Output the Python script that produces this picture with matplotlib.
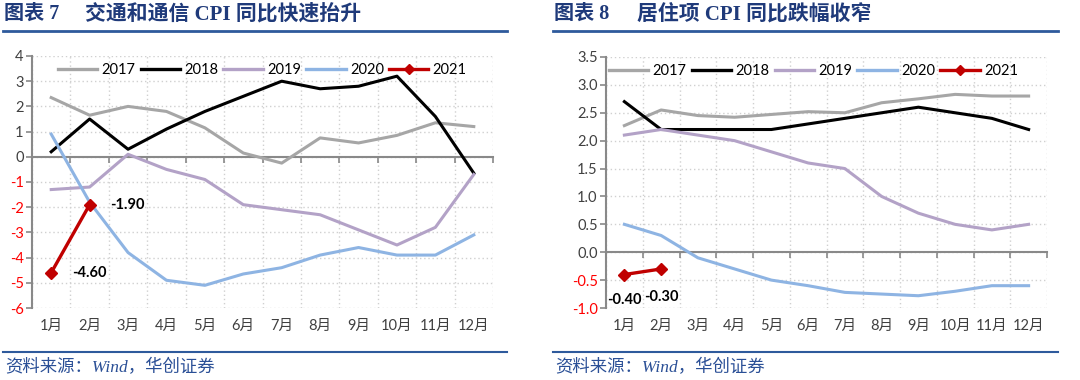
import matplotlib
matplotlib.use("Agg")
import matplotlib.pyplot as plt
from matplotlib.lines import Line2D

months = ["1月", "2月", "3月", "4月", "5月", "6月", "7月", "8月", "9月", "10月", "11月", "12月"]
years = ["2017", "2018", "2019", "2020", "2021"]

# 交通和通信 CPI 同比 (%)
traffic = {
    "2017": [2.35, 1.65, 2.0, 1.8, 1.15, 0.15, -0.25, 0.75, 0.55, 0.85, 1.35, 1.2],
    "2018": [0.2, 1.5, 0.3, 1.1, 1.8, 2.4, 3.0, 2.7, 2.8, 3.2, 1.6, -0.65],
    "2019": [-1.3, -1.2, 0.1, -0.5, -0.9, -1.9, -2.1, -2.3, -2.9, -3.5, -2.8, -0.7],
    "2020": [0.9, -1.8, -3.8, -4.9, -5.1, -4.65, -4.4, -3.9, -3.6, -3.9, -3.9, -3.1],
    "2021": [-4.6, -1.9],
}
# 居住项 CPI 同比 (%)
housing = {
    "2017": [2.27, 2.55, 2.45, 2.42, 2.47, 2.52, 2.5, 2.68, 2.75, 2.83, 2.8, 2.8],
    "2018": [2.7, 2.2, 2.2, 2.2, 2.2, 2.3, 2.4, 2.5, 2.6, 2.5, 2.4, 2.2],
    "2019": [2.1, 2.2, 2.1, 2.0, 1.8, 1.6, 1.5, 1.0, 0.7, 0.5, 0.4, 0.5],
    "2020": [0.5, 0.3, -0.1, -0.3, -0.5, -0.6, -0.72, -0.75, -0.78, -0.7, -0.6, -0.6],
    "2021": [-0.4, -0.3],
}

colors = {"2017": "#A6A6A6", "2018": "#000000", "2019": "#B3A2C7",
          "2020": "#8EB4E3", "2021": "#C00000"}
NUM_FONT = ["Lato", "Noto Sans CJK SC"]
TITLE_FONT = ["Liberation Serif", "Noto Sans CJK SC"]
NAVY = "#1F3A7A"
LINE_BLUE = "#2E5A9C"
AX_GRAY = "#898989"

fig = plt.figure(figsize=(10.8, 3.8), dpi=100)
W, H = 1080, 380


def px_axes(x0, y0, x1, y1):
    return fig.add_axes([x0 / W, 1 - y1 / H, (x1 - x0) / W, (y1 - y0) / H])


def draw_panel(ax, data, ylim, yticks, fmt, label_style, legend_x):
    x = list(range(12))
    for yr in years:
        vals = data[yr]
        if yr == "2021":
            ax.plot(x[:len(vals)], vals, color=colors[yr], lw=2.4,
                    marker="D", ms=6, zorder=5)
        else:
            ax.plot(x[:len(vals)], vals, color=colors[yr], lw=2.2, zorder=3)

    ax.set_xlim(-0.5, 11.5)
    ax.set_ylim(*ylim)
    ax.set_yticks(yticks)
    ax.set_yticklabels([fmt.format(v) for v in yticks], family=NUM_FONT, fontsize=10.5)
    for lab, v in zip(ax.get_yticklabels(), yticks):
        lab.set_color("#FF0000" if v < 0 else "#404040")

    ax.set_xticks([i - 0.5 for i in range(13)])
    ax.set_xticklabels([])
    ax.tick_params(axis="x", direction="out", length=4, color=AX_GRAY, width=1.2)
    ax.tick_params(axis="y", direction="out", length=4, color=AX_GRAY, width=1.2, pad=2)
    ax.grid(True, ls=(0, (1, 2)), color="#D0D0D0", lw=1)
    ax.set_axisbelow(True)

    for s in ["top", "right"]:
        ax.spines[s].set_visible(False)
    ax.spines["bottom"].set_position(("data", 0))
    ax.spines["bottom"].set_color(AX_GRAY)
    ax.spines["bottom"].set_linewidth(1.5)
    ax.spines["left"].set_color(AX_GRAY)
    ax.spines["left"].set_linewidth(1.5)

    sec = ax.secondary_xaxis("bottom")
    sec.set_xticks(x)
    sec.set_xticklabels(months, family=NUM_FONT, fontsize=10.5, color="#404040")
    sec.tick_params(length=0, pad=8)
    sec.spines["bottom"].set_visible(False)

    handles = [Line2D([], [], color=colors[yr], lw=2.4,
                      marker="D" if yr == "2021" else None, ms=5) for yr in years]
    ax.legend(handles, years, loc="upper left", bbox_to_anchor=(legend_x, 1.0), ncol=5,
              frameon=False, handlelength=2.7, handletextpad=0.3, columnspacing=0.35,
              borderaxespad=0.1, prop={"family": NUM_FONT, "size": 10.5}, numpoints=1)

    for i, v in enumerate(data["2021"]):
        dx, dy, ha, va = label_style[i]
        ax.annotate(f"{v:.2f}", (i, v), xytext=(dx, dy), textcoords="offset points",
                    ha=ha, va=va, fontsize=10.5, fontweight="bold", family=NUM_FONT,
                    color="#000000")


axL = px_axes(32, 56, 493, 308)
draw_panel(axL, traffic, (-6, 4), list(range(-6, 5)), "{:d}",
           [(15, 0, "left", "center"), (15, 0, "left", "center")], 0.04)

axR = px_axes(606, 57, 1047, 308)
draw_panel(axR, housing, (-1.0, 3.5), [-1.0 + 0.5 * i for i in range(10)], "{:.1f}",
           [(0, -18, "center", "center"), (0, -20, "center", "center")], -0.01)

# titles, rules and source notes
for x0, x1, num, xt, title in [(3, 507, "图表 7", 85, "交通和通信 CPI 同比快速抬升"),
                               (553, 1058, "图表 8", 637, "居住项 CPI 同比跌幅收窄")]:
    fig.text((x0 + 1) / W, 1 - 14 / H, num, family=TITLE_FONT, fontsize=14.5,
             fontweight="bold", color=NAVY, va="center", ha="left")
    fig.text(xt / W, 1 - 14 / H, title, family=TITLE_FONT, fontsize=15,
             fontweight="bold", color=NAVY, va="center", ha="left")
    fig.add_artist(Line2D([x0 / W, x1 / W], [1 - 31 / H] * 2, color=LINE_BLUE, lw=2))
    fig.add_artist(Line2D([x0 / W, x1 / W], [1 - 352 / H] * 2, color=LINE_BLUE, lw=1.5))
    fig.text((x0 + 2) / W, 1 - 368 / H, "资料来源：Wind，华创证券",
             family=["Liberation Serif", "Noto Sans CJK SC"], style="italic",
             fontsize=12.5, color="#2A4F96", va="center", ha="left")

fig.savefig("out.png", dpi=100)
